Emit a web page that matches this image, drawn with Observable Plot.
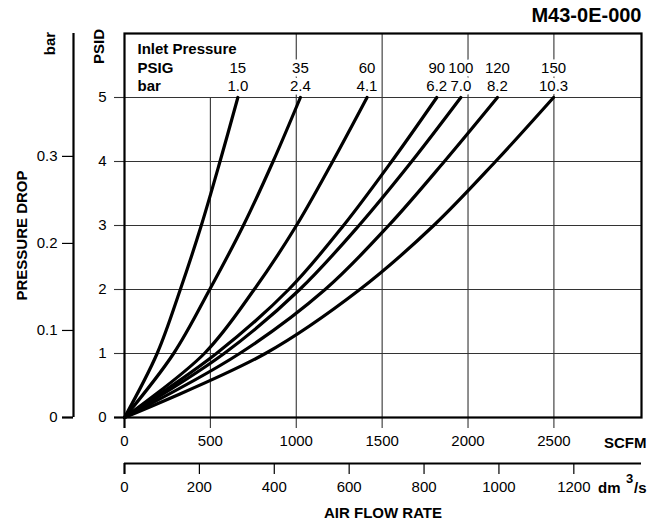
<!DOCTYPE html>
<html><head><meta charset="utf-8">
<script src="https://cdn.jsdelivr.net/npm/d3@7"></script>
<script src="https://cdn.jsdelivr.net/npm/@observablehq/plot@0.6"></script>
<style>body{margin:0;background:#fff} svg{display:block}</style>
</head><body><div id="chart"></div>
<script>
// Inlet pressure series
const inletPsig = ["15", "35", "60", "90", "100", "120", "150"];
const inletBar  = ["1.0", "2.4", "4.1", "6.2", "7.0", "8.2", "10.3"];
// Pressure drop levels (PSID) at which each curve's flow was read
const psidPoints = [0, 1, 2, 3, 4, 5];
// Air flow (SCFM) at each PSID level, per inlet pressure
const flow15  = [0, 190, 325, 447, 556, 660];
const flow35  = [0, 286, 496, 692, 865, 1024];
const flow60  = [0, 465, 755, 1001, 1212, 1412];
const flow90  = [0, 535, 956, 1275, 1555, 1818];
const flow100 = [0, 580, 1020, 1365, 1672, 1958];
const flow120 = [0, 670, 1168, 1538, 1862, 2171];
const flow150 = [0, 820, 1370, 1800, 2160, 2498];
const flows = [flow15, flow35, flow60, flow90, flow100, flow120, flow150];

// Tick labels
const scfmTicks = [0, 500, 1000, 1500, 2000, 2500];
const psidTicks = [0, 1, 2, 3, 4, 5];
const dmTicks   = [0, 200, 400, 600, 800, 1000, 1200];
const barTicks  = [0, 0.1, 0.2, 0.3];
// ratios of the chart's secondary axes to its primary ones
const DM3S_TO_SCFM = 2.18;
const BAR_TO_PSID = 13.6;

const curves = flows.flatMap((f, s) => f.map((x, i) => ({series: inletPsig[s], scfm: x, psid: psidPoints[i]})));
const ends = flows.map((f, s) => ({psig: inletPsig[s], bar: inletBar[s], scfm: f[f.length - 1]}));
const dmTicksScfm = dmTicks.map(d => d * DM3S_TO_SCFM);
const barTicksPsid = barTicks.map(b => b * BAR_TO_PSID);
const yTop = 6, yHeader = 5;

const FONT = "Liberation Sans, Arial, Helvetica, sans-serif";
const FS = 15;
const halo = {stroke: "white", strokeWidth: 7, paintOrder: "stroke", fill: "black"};
const T = {lineAnchor: "middle", fontSize: FS};
const B = {...T, fontWeight: "bold"};

const chart = Plot.plot({
  width: 662,
  height: 527,
  marginLeft: 124,
  marginRight: 21,
  marginTop: 33,
  marginBottom: 110,
  style: {fontFamily: FONT, fontSize: FS + "px", background: "white", color: "black"},
  x: {domain: [0, 3010]},
  y: {domain: [0, yTop]},
  marks: [
    // grid (the first vertical line stops under the legend header)
    Plot.ruleX(scfmTicks.slice(1), {y1: 0, y2: (d, i) => i === 0 ? yHeader : yTop, stroke: "#333", strokeWidth: 1.1}),
    Plot.ruleY(psidTicks.slice(1), {stroke: "#333", strokeWidth: 1.1}),
    // SCFM axis
    Plot.axisX(scfmTicks.slice(1), {tickSize: 11, tickPadding: 7, label: null, fontSize: FS, stroke: "#333", strokeWidth: 1.1, tickFormat: d => String(d)}),
    Plot.axisX([0], {tickSize: 11, tickPadding: 7, label: null, fontSize: FS, strokeWidth: 2.2, tickFormat: () => "0"}),
    // PSID axis
    Plot.axisY(psidTicks.slice(1), {tickSize: 10, tickPadding: 8, label: null, fontSize: FS, stroke: "#333", strokeWidth: 1.1, tickFormat: d => String(d)}),
    Plot.axisY([0], {tickSize: 10, tickPadding: 8, label: null, fontSize: FS, strokeWidth: 2.2, tickFormat: () => "0"}),
    // dm3/s axis
    Plot.ruleY([0], {dy: 46, strokeWidth: 2.2}),
    Plot.axisX(dmTicksScfm.slice(1), {dy: 46, tickSize: 11, tickPadding: 7, label: null, fontSize: FS, strokeWidth: 1.2,
      tickFormat: d => String(Math.round(d / DM3S_TO_SCFM))}),
    Plot.axisX([0], {dy: 46, tickSize: 11, tickPadding: 7, label: null, fontSize: FS, strokeWidth: 2.2, tickFormat: () => "0"}),
    // bar axis
    Plot.ruleX([0], {dx: -51, strokeWidth: 2.2}),
    Plot.axisY(barTicksPsid.slice(1), {dx: -51, tickSize: 11, tickPadding: 5, label: null, fontSize: FS, strokeWidth: 1.2,
      tickFormat: d => (d / BAR_TO_PSID).toFixed(1)}),
    Plot.axisY([0], {dx: -51, tickSize: 11, tickPadding: 5, label: null, fontSize: FS, strokeWidth: 2.2, tickFormat: () => "0"}),
    // header legend
    Plot.text(["Inlet Pressure"], {frameAnchor: "top-left", dx: 13, dy: 16, textAnchor: "start", ...B, ...halo}),
    Plot.text(["PSIG"], {frameAnchor: "top-left", dx: 13, dy: 35, textAnchor: "start", ...B, ...halo}),
    Plot.text(["bar"], {frameAnchor: "top-left", dx: 13, dy: 53, textAnchor: "start", ...B, ...halo}),
    Plot.text(ends, {x: "scfm", text: "psig", frameAnchor: "top", dy: 35, ...T, ...halo}),
    Plot.text(ends, {x: "scfm", text: "bar", frameAnchor: "top", dy: 53, ...T, ...halo}),
    // curves
    Plot.line(curves, {x: "scfm", y: "psid", z: "series", curve: "catmull-rom", stroke: "black", strokeWidth: 3.2}),
    Plot.frame({strokeWidth: 2.2}),
    // titles and axis names
    Plot.text(["M43-0E-000"], {frameAnchor: "top-right", dy: -17.5, textAnchor: "end", ...B, fontSize: 20}),
    Plot.text(["SCFM"], {frameAnchor: "bottom-right", dx: 5, dy: 26, textAnchor: "end", ...B}),
    Plot.text(["dm"], {frameAnchor: "bottom-right", dx: -21, dy: 71, textAnchor: "end", ...B}),
    Plot.text(["3"], {frameAnchor: "bottom-right", dx: -12, dy: 61, textAnchor: "middle", ...B, fontSize: 13}),
    Plot.text(["/s"], {frameAnchor: "bottom-right", dx: 5, dy: 71, textAnchor: "end", ...B}),
    Plot.text(["AIR FLOW RATE"], {frameAnchor: "bottom", dy: 96, ...B}),
    Plot.text(["PSID"], {frameAnchor: "top-left", dx: -25, dy: 13, rotate: -90, textAnchor: "middle", ...B}),
    Plot.text(["bar"], {frameAnchor: "top-left", dx: -74, dy: 10, rotate: -90, textAnchor: "middle", ...B}),
    Plot.text(["PRESSURE DROP"], {frameAnchor: "left", dx: -102, dy: 10, rotate: -90, textAnchor: "middle", ...B})
  ]
});
document.getElementById("chart").appendChild(chart);
</script>
</body></html>
